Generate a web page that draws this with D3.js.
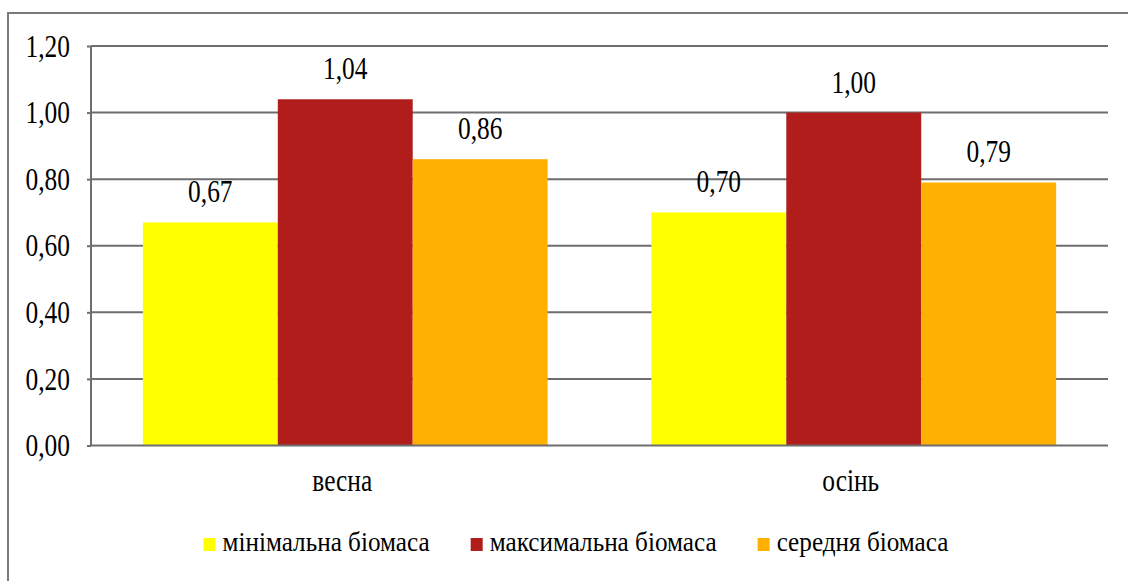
<!DOCTYPE html>
<html>
<head>
<meta charset="utf-8">
<script src="https://cdn.jsdelivr.net/npm/d3@7"></script>
<style>
  html, body { margin: 0; padding: 0; background: #fff; }
  svg { display: block; }
</style>
</head>
<body>
<svg id="chart" width="1128" height="581"></svg>
<script>
// Biomass by season
const seasons = ["весна", "осінь"];
const seriesNames = ["мінімальна біомаса", "максимальна біомаса", "середня біомаса"];
const seriesColors = ["#ffff00", "#b01d1b", "#ffb000"];
const minBiomass = [0.67, 0.70];
const maxBiomass = [1.04, 1.00];
const meanBiomass = [0.86, 0.79];
const yTicks = [0, 0.2, 0.4, 0.6, 0.8, 1.0, 1.2];

const seriesValues = [minBiomass, maxBiomass, meanBiomass];
const rows = seasons.map((s, i) => ({
  season: s,
  values: seriesNames.map((n, k) => ({ key: n, value: seriesValues[k][i], k }))
}));

const W = 1128, H = 581;
const margin = { left: 91, right: 20, top: 46, bottom: 136 };
const FONT = '"Liberation Serif"';
const svg = d3.select("#chart");
const squeeze = 0.82;        // narrow serif look for labels
const legendSqueeze = 0.9;
const fmt = v => d3.format(".2f")(v).replace(".", ",");

// outer frame
svg.append("rect")
  .attr("x", 8).attr("y", 13)
  .attr("width", W + 20).attr("height", H + 20)
  .attr("fill", "none").attr("stroke", "#7a7a7a").attr("stroke-width", 2);

const x0 = d3.scaleBand()
  .domain(seasons)
  .range([margin.left, W - margin.right])
  .paddingInner(0.204).paddingOuter(0.102);
const x1 = d3.scaleBand()
  .domain(seriesNames)
  .range([0, x0.bandwidth()]);
const y = d3.scaleLinear()
  .domain([0, 1.2])
  .range([H - margin.bottom + 0.5, margin.top]);

// horizontal grid
svg.append("g")
  .selectAll("line")
  .data(yTicks.filter(t => t > 0))
  .join("line")
  .attr("x1", margin.left).attr("x2", W - margin.right)
  .attr("y1", d => y(d)).attr("y2", d => y(d))
  .attr("stroke", "#6e6e6e").attr("stroke-width", 2);

// bars
const groups = svg.append("g")
  .selectAll("g")
  .data(rows)
  .join("g")
  .attr("transform", d => `translate(${x0(d.season)},0)`);

groups.selectAll("rect")
  .data(d => d.values)
  .join("rect")
  .attr("x", d => x1(d.key))
  .attr("width", x1.bandwidth())
  .attr("y", d => y(d.value))
  .attr("height", d => y(0) - y(d.value))
  .attr("fill", d => seriesColors[d.k]);

// value labels
groups.selectAll("text")
  .data(d => d.values)
  .join("text")
  .style("font-family", FONT)
  .attr("font-size", 31)
  .attr("text-anchor", "middle")
  .attr("fill", "#000")
  .attr("transform", d => `translate(${x1(d.key) + x1.bandwidth() / 2},${y(d.value) - 20}) scale(${squeeze},1)`)
  .text(d => fmt(d.value));

// y axis
const yAxis = svg.append("g")
  .attr("transform", `translate(${margin.left},0)`)
  .call(d3.axisLeft(y).tickValues(yTicks).tickSize(4).tickPadding(0).tickFormat(fmt));
yAxis.attr("font-family", null).attr("font-size", null);
yAxis.select(".domain").attr("stroke", "#6e6e6e").attr("stroke-width", 2)
  .attr("d", `M0,${y(0)}V${y(1.2)}`);
yAxis.selectAll(".tick line").attr("stroke", "#6e6e6e").attr("stroke-width", 2);
yAxis.selectAll(".tick text")
  .style("font-family", FONT)
  .attr("font-size", 31)
  .attr("fill", "#000")
  .attr("x", 0).attr("dy", "0.33em")
  .attr("transform", `translate(-21,0) scale(${squeeze},1)`);

// baseline
svg.append("line")
  .attr("x1", margin.left).attr("x2", W - margin.right)
  .attr("y1", y(0)).attr("y2", y(0))
  .attr("stroke", "#6e6e6e").attr("stroke-width", 2);

// category labels
svg.append("g")
  .selectAll("text")
  .data(seasons)
  .join("text")
  .style("font-family", FONT)
  .attr("font-size", 31)
  .attr("text-anchor", "middle")
  .attr("fill", "#000")
  .attr("transform", d => `translate(${x0(d) + x0.bandwidth() / 2 - 3},491) scale(${squeeze},1)`)
  .text(d => d);

// legend
const legend = svg.append("g");
let cursor = 0;
seriesNames.forEach((name, k) => {
  const item = legend.append("g").attr("transform", `translate(${cursor},0)`);
  item.append("rect").attr("x", 0).attr("y", -13).attr("width", 12).attr("height", 13)
    .attr("fill", seriesColors[k]);
  const t = item.append("text")
    .style("font-family", FONT)
    .attr("font-size", 28)
    .attr("fill", "#000")
    .attr("transform", `translate(19,0) scale(${legendSqueeze},1)`)
    .text(name);
  const tw = t.node().getComputedTextLength() * legendSqueeze;
  cursor += 19 + tw + 41;
});
const legendWidth = cursor - 41;
legend.attr("transform", `translate(${576 - legendWidth / 2},551)`);
</script>
</body>
</html>
